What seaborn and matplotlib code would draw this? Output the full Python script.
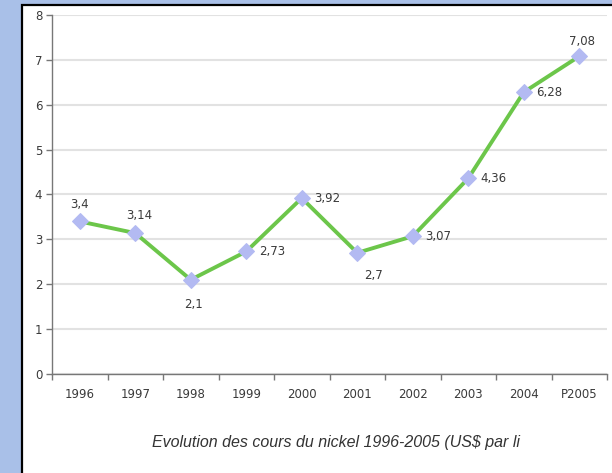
import numpy as np
import pandas as pd
import seaborn as sns
from matplotlib import pyplot as plt
from matplotlib.patches import Rectangle
from matplotlib.ticker import FixedLocator

# nickel price, US$ per pound
years = ['1996', '1997', '1998', '1999', '2000', '2001', '2002', '2003', '2004', 'P2005']
prices = [3.4, 3.14, 2.1, 2.73, 3.92, 2.7, 3.07, 4.36, 6.28, 7.08]
price_labels = ['3,4', '3,14', '2,1', '2,73', '3,92', '2,7', '3,07', '4,36', '6,28', '7,08']

# where each value label sits relative to its point (points)
label_offsets = [(0, 12), (3, 13), (2, -18), (9, 0), (9, 0), (12, -16), (9, 0), (9, 0), (9, 0), (2, 11)]
label_align = ['center', 'center', 'center', 'left', 'left', 'center', 'left', 'left', 'left', 'center']

sns.set_style('white')
plt.rcParams['font.family'] = ['DejaVu Sans']

fig = plt.figure(figsize=(6.12, 4.73), dpi=100, facecolor='#a9c0e8')
# white panel with black border, behind the axes
fig.patches.append(Rectangle((22 / 612, -0.05), 1.0, 1 - 5 / 473 + 0.05, transform=fig.transFigure,
                             facecolor='white', edgecolor='black', linewidth=1.6, zorder=-5))

ax = fig.add_axes([52 / 612, 1 - 374 / 473, 555 / 612, (374 - 15) / 473])
ax.set_zorder(2)
ax.set_facecolor('none')

df = pd.DataFrame({'year': years, 'price': prices})
df['pos'] = np.arange(len(years))
sns.lineplot(data=df, x='pos', y='price', ax=ax, color='#6cc64a', linewidth=2.8,
             marker='D', markersize=8, markerfacecolor='#b3baf2', markeredgecolor='#b3baf2', zorder=3)

for i, (p, lab) in enumerate(zip(prices, price_labels)):
    ax.annotate(lab, (i, p), xytext=label_offsets[i], textcoords='offset points',
                ha=label_align[i], va='center', fontsize=8.5, color='#3a3a3a')

ax.set_xlim(-0.5, len(years) - 0.5)
ax.set_ylim(0, 8)
ax.set_yticks(range(0, 9))
ax.set_xticks(range(len(years)))
ax.set_xticklabels(years)
ax.xaxis.set_minor_locator(FixedLocator(np.arange(-0.5, len(years), 1.0)))
ax.tick_params(axis='x', which='major', length=0, pad=10, labelsize=8.5, labelcolor='#3a3a3a')
ax.tick_params(axis='x', which='minor', length=4, color='#777777', width=1, bottom=True)
ax.tick_params(axis='y', length=4, color='#777777', width=1, left=True, labelsize=8.5, labelcolor='#3a3a3a', pad=3)
ax.yaxis.grid(True, color='#e2e2e2', linewidth=1.5)
ax.set_axisbelow(True)
for s in ['top', 'right']:
    ax.spines[s].set_visible(False)
for s in ['left', 'bottom']:
    ax.spines[s].set_color('#777777')
    ax.spines[s].set_linewidth(1)
ax.set_xlabel('')
ax.set_ylabel('')

fig.text(336 / 612, 1 - 443 / 473, 'Evolution des cours du nickel 1996-2005 (US$ par li',
         ha='center', va='center', fontsize=11.5, style='italic', color='#333333',
         family=['Liberation Sans', 'DejaVu Sans'])

fig.savefig('out.png', dpi=100, facecolor=fig.get_facecolor())
